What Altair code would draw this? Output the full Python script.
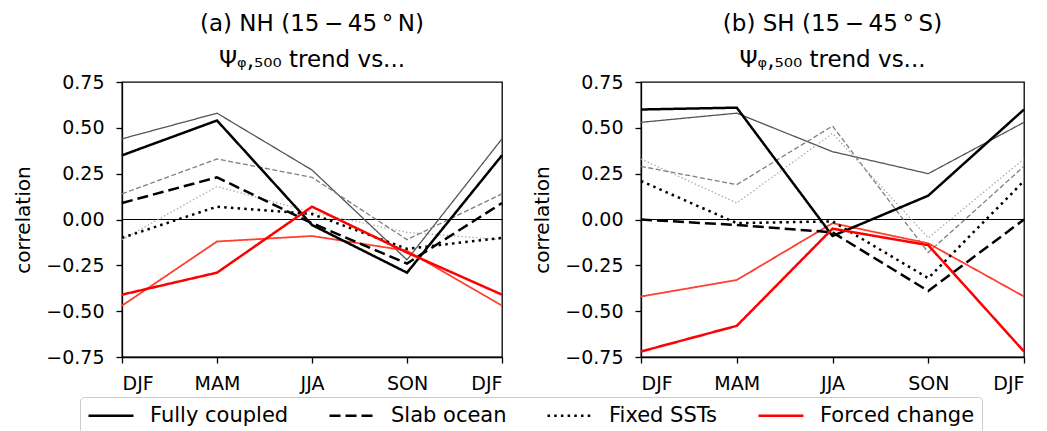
import altair as alt
import pandas as pd

seasons = ["DJF", "MAM", "JJA", "SON", "DJF"]
experiments = ["Fully coupled", "Slab ocean", "Fixed SSTs", "Forced change"]
y_ticks = [-0.75, -0.5, -0.25, 0.0, 0.25, 0.5, 0.75]

# NH (15-45N): thick = ensemble lines, thin = companion lines
nh_coupled = [0.35, 0.54, -0.03, -0.29, 0.35]
nh_coupled_thin = [0.44, 0.58, 0.27, -0.22, 0.44]
nh_slab = [0.09, 0.23, -0.02, -0.24, 0.09]
nh_slab_thin = [0.14, 0.33, 0.23, -0.11, 0.14]
nh_fixed = [-0.10, 0.07, 0.03, -0.16, -0.10]
nh_fixed_thin = [-0.11, 0.18, 0.04, -0.07, -0.11]
nh_forced = [-0.41, -0.29, 0.07, -0.18, -0.41]
nh_forced_thin = [-0.47, -0.12, -0.09, -0.17, -0.47]

# SH (15-45S)
sh_coupled = [0.60, 0.61, -0.09, 0.13, 0.60]
sh_coupled_thin = [0.53, 0.58, 0.37, 0.25, 0.53]
sh_slab = [0.00, -0.03, -0.07, -0.39, 0.00]
sh_slab_thin = [0.29, 0.19, 0.51, -0.18, 0.29]
sh_fixed = [0.21, -0.02, -0.01, -0.32, 0.21]
sh_fixed_thin = [0.33, 0.09, 0.47, -0.10, 0.33]
sh_forced = [-0.72, -0.58, -0.05, -0.14, -0.72]
sh_forced_thin = [-0.42, -0.33, -0.02, -0.13, -0.42]

series = {
    "NH": {
        ("Fully coupled", "thick"): nh_coupled, ("Fully coupled", "thin"): nh_coupled_thin,
        ("Slab ocean", "thick"): nh_slab, ("Slab ocean", "thin"): nh_slab_thin,
        ("Fixed SSTs", "thick"): nh_fixed, ("Fixed SSTs", "thin"): nh_fixed_thin,
        ("Forced change", "thick"): nh_forced, ("Forced change", "thin"): nh_forced_thin,
    },
    "SH": {
        ("Fully coupled", "thick"): sh_coupled, ("Fully coupled", "thin"): sh_coupled_thin,
        ("Slab ocean", "thick"): sh_slab, ("Slab ocean", "thin"): sh_slab_thin,
        ("Fixed SSTs", "thick"): sh_fixed, ("Fixed SSTs", "thin"): sh_fixed_thin,
        ("Forced change", "thick"): sh_forced, ("Forced change", "thin"): sh_forced_thin,
    },
}

rows = []
for panel, d in series.items():
    for (exp, weight), vals in d.items():
        for i, v in enumerate(vals):
            rows.append({"panel": panel, "exp": exp, "weight": weight, "idx": i, "value": v})
df = pd.DataFrame(rows)

thin_style = {
    "Fully coupled": ("#555555", [1, 0], 1.3),
    "Slab ocean": ("#7f7f7f", [5, 2.5], 1.3),
    "Fixed SSTs": ("#a8a8a8", [1.4, 2.3], 1.3),
    "Forced change": ("#ff4030", [1, 0], 1.8),
}

label_expr = "['DJF','MAM','JJA','SON','DJF'][datum.value]"

x_enc = alt.X("idx:Q", scale=alt.Scale(domain=[0, 4], nice=False),
              axis=alt.Axis(values=[0, 1, 2, 3, 4], labelExpr=label_expr, title=None))


def y_enc(field):
    return alt.Y(field, scale=alt.Scale(domain=[-0.75, 0.75], nice=False),
                 axis=alt.Axis(values=y_ticks, format=".2f", title="correlation"))


legend = alt.Legend(
    orient="none", legendX=-42, legendY=315, direction="horizontal", columns=4,
    title=None, symbolType="M-2.25,0H2.25", symbolSize=400, symbolOffset=12.5,
    labelFontSize=21, labelFont="DejaVu Sans", labelColor="black", labelOffset=27.5,
    columnPadding=35, padding=7, strokeColor="#cccccc", fillColor="white",
    cornerRadius=4, labelLimit=0,
)


def panel_chart(panel, title_lines, width):
    d = df[df.panel == panel]
    zero = alt.Chart(pd.DataFrame({"z": [0.0]})).mark_rule(color="black", strokeWidth=1).encode(
        y=y_enc("z:Q"))
    layers = [zero]
    for exp in experiments:
        col, dash, w = thin_style[exp]
        sub = d[(d.exp == exp) & (d.weight == "thin")]
        layers.append(
            alt.Chart(sub).mark_line(color=col, strokeDash=dash, strokeWidth=w).encode(
                x=x_enc, y=y_enc("value:Q"), order="idx:Q")
        )
    thick = alt.Chart(d[d.weight == "thick"]).mark_line().encode(
        x=x_enc, y=y_enc("value:Q"), order="idx:Q",
        color=alt.Color("exp:N", scale=alt.Scale(domain=experiments,
                                                 range=["black", "black", "black", "#ff0000"]),
                        legend=legend),
        strokeDash=alt.StrokeDash("exp:N", scale=alt.Scale(domain=experiments,
                                                           range=[[1, 0], [11, 5], [2.5, 4.2], [1, 0]]),
                                  legend=legend),
        strokeWidth=alt.StrokeWidth("exp:N", scale=alt.Scale(domain=experiments,
                                                             range=[2.5, 2.5, 2.5, 3.6]),
                                    legend=legend),
    )
    layers.append(thick)
    return alt.layer(*layers).properties(
        width=width, height=275,
        title=alt.Title(title_lines, fontSize=23, font="DejaVu Sans", fontWeight="normal",
                        anchor="middle", lineHeight=36, offset=1, color="black"),
    )


left = panel_chart("NH", ["(a) NH (15\u2009\u2212\u200945\u2009\u00b0\u2009N)", "\u03a8\u1d69,\u2085\u2080\u2080 trend vs..."], 380)
right = panel_chart("SH", ["(b) SH (15\u2009\u2212\u200945\u2009\u00b0\u2009S)", "\u03a8\u1d69,\u2085\u2080\u2080 trend vs..."], 383)

chart = alt.hconcat(left, right, spacing=24).resolve_scale(
    color="shared", strokeDash="shared", strokeWidth="shared"
).properties(
    padding={"left": 5, "top": 4, "right": 0, "bottom": 0}
).configure_view(
    stroke="black", strokeWidth=1.3
).configure_axis(
    labelFont="DejaVu Sans", labelFontSize=19, labelColor="black",
    titleFont="DejaVu Sans", titleFontSize=20, titleFontWeight="normal", titleColor="black",
    tickColor="black", tickSize=6, tickWidth=1.3, domainColor="black", domainWidth=1.3,
    grid=False,
).configure_axisY(
    labelPadding=12, titlePadding=12,
).configure_axisX(
    labelPadding=11,
)

chart.save("out.html", embed_options={"renderer": "svg", "actions": False})
